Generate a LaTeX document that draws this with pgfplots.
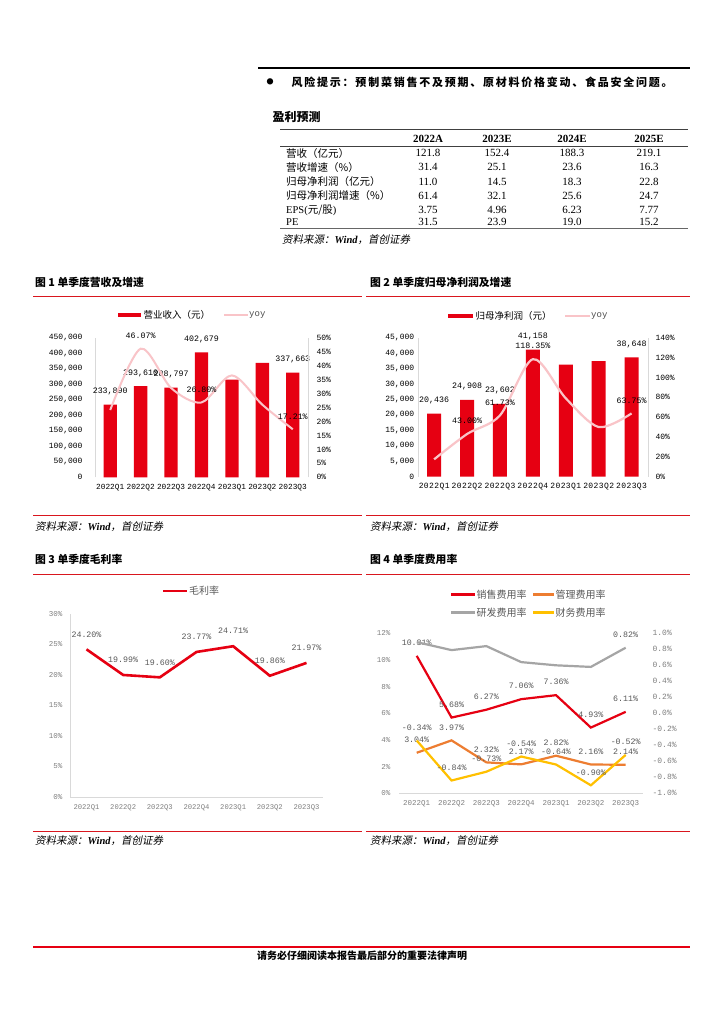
\documentclass[border=0pt]{standalone}
\usepackage{fontspec}
\usepackage{pgfplots}
\pgfplotsset{compat=1.18}
\setmainfont{Liberation Serif}
\newfontfamily\cjk{Noto Sans CJK SC}
\newfontfamily\cjksp[LetterSpace=16]{Noto Sans CJK SC}
\newfontfamily\cjkit[FakeSlant=0.2]{Noto Sans CJK SC}
\newfontfamily\mono{Liberation Mono}
\newfontfamily\spmono[LetterSpace=5]{Liberation Mono}
\newcommand\fs[1]{\fontsize{#1}{#1}\selectfont}
\definecolor{barred}{HTML}{E60012}
\definecolor{pinkc}{HTML}{F9C4C8}
\definecolor{linered}{HTML}{D9161E}
\definecolor{orangec}{HTML}{ED7D31}
\definecolor{grayc}{HTML}{A5A5A5}
\definecolor{yellowc}{HTML}{FFC000}
\definecolor{labgray}{HTML}{595959}
\definecolor{tickgray}{HTML}{808080}
\newcommand\source[1]{\node[anchor=west, inner sep=0] at (#1) {{\cjkit\fs{10.5}资料来源：}{\fs{10.5}\bfseries\itshape Wind}{\cjkit\fs{10.5}，首创证券}};}
\pgfplotsset{base/.style={scale only axis, anchor=south west, enlargelimits=false,
  xmin=-0.5, xmax=6.5, xtick={0,...,6}, tick style={draw=none}, major tick length=0pt,
  clip=false, axis line style={-}, scaled y ticks=false, scaled x ticks=false}}
\tikzset{lab/.style={font=\mono\fs{8.3}, anchor=center, yshift=13pt, inner sep=0pt}}
\begin{document}
\begin{tikzpicture}
\fill[white] (0pt,0pt) rectangle (724pt,-1024pt);
\path[use as bounding box] (0pt,0pt) rectangle (724pt,-1024pt);
% ---------- header ----------
\draw[black, line width=1.8pt] (258pt,-68.3pt) -- (690pt,-68.3pt);
\node[inner sep=0] at (270pt,-82pt) {\cjk\fs{7}●};
\node[anchor=west, inner sep=0] at (291.5pt,-82pt) {\cjksp\bfseries\fs{11}风险提示：预制菜销售不及预期、原材料价格变动、食品安全问题。};
\node[anchor=west, inner sep=0] at (272.5pt,-117.3pt) {\cjk\bfseries\fs{12}盈利预测};
% table
\draw[black!75, line width=0.8pt] (280pt,-129.3pt) -- (688pt,-129.3pt);
\draw[black!75, line width=0.8pt] (280pt,-146pt) -- (688pt,-146pt);
\draw[black!60, line width=0.8pt] (280pt,-228.3pt) -- (688pt,-228.3pt);
\foreach \x/\t in {428/2022A,497/2023E,572/2024E,649/2025E}
  \node[inner sep=0] at (\x pt,-138.7pt) {\fs{11}\bfseries \t};
\foreach \y/\l/\a/\b/\c/\d in {
  153.3/{\cjk 营收（亿元）}/121.8/152.4/188.3/219.1,
  167.3/{\cjk 营收增速（\%）}/31.4/25.1/23.6/16.3,
  181.7/{\cjk 归母净利润（亿元）}/11.0/14.5/18.3/22.8,
  195.7/{\cjk 归母净利润增速（\%）}/61.4/32.1/25.6/24.7,
  210/{EPS(\cjk 元/股\rmfamily)}/3.75/4.96/6.23/7.77,
  222.3/{PE}/31.5/23.9/19.0/15.2}{
  \node[anchor=west, inner sep=0] at (286pt,-\y pt) {\fs{10.5}\l};
  \node[inner sep=0] at (428pt,-\y pt) {\fs{11}\a};
  \node[inner sep=0] at (497pt,-\y pt) {\fs{11}\b};
  \node[inner sep=0] at (572pt,-\y pt) {\fs{11}\c};
  \node[inner sep=0] at (649pt,-\y pt) {\fs{11}\d};
}
\source{282pt,-240pt}
% ---------- section frames ----------
\node[anchor=west, inner sep=0] at (35pt,-282pt) {\cjk\bfseries\fs{10.8}图 1 单季度营收及增速};
\node[anchor=west, inner sep=0] at (370pt,-282pt) {\cjk\bfseries\fs{10.8}图 2 单季度归母净利润及增速};
\draw[linered, line width=0.8pt] (33pt,-296pt) -- (362pt,-296pt);
\draw[linered, line width=0.8pt] (366pt,-296pt) -- (690pt,-296pt);
\draw[linered, line width=0.8pt] (33pt,-515pt) -- (362pt,-515pt);
\draw[linered, line width=0.8pt] (366pt,-515pt) -- (690pt,-515pt);
\source{35pt,-526.7pt}
\source{370pt,-526.7pt}
\node[anchor=west, inner sep=0] at (35pt,-559pt) {\cjk\bfseries\fs{10.8}图 3 单季度毛利率};
\node[anchor=west, inner sep=0] at (370pt,-559pt) {\cjk\bfseries\fs{10.8}图 4 单季度费用率};
\draw[linered, line width=0.8pt] (33pt,-574pt) -- (362pt,-574pt);
\draw[linered, line width=0.8pt] (366pt,-574pt) -- (690pt,-574pt);
\draw[linered, line width=0.8pt] (33pt,-831pt) -- (362pt,-831pt);
\draw[linered, line width=0.8pt] (366pt,-831pt) -- (690pt,-831pt);
\source{35pt,-841pt}
\source{370pt,-841pt}
% footer
\draw[barred, line width=2.4pt] (33pt,-946.7pt) -- (690pt,-946.7pt);
\node[inner sep=0] at (362pt,-956pt) {\cjk\bfseries\fs{10}请务必仔细阅读本报告最后部分的重要法律声明};
% ---------- legends ----------
\fill[barred] (117.7pt,-312.7pt) rectangle (141pt,-317.3pt);
\node[anchor=west, inner sep=0] at (143.5pt,-315pt) {\cjk\fs{9.5}营业收入（元）};
\draw[pinkc, line width=2pt] (224pt,-315pt) -- (248pt,-315pt);
\node[anchor=west, inner sep=0] at (249pt,-315pt) {\mono\fs{9}\color{black!70}yoy};
\fill[barred] (448pt,-313.7pt) rectangle (473pt,-318.3pt);
\node[anchor=west, inner sep=0] at (475.5pt,-316pt) {\cjk\fs{9.5}归母净利润（元）};
\draw[pinkc, line width=2pt] (565pt,-316pt) -- (590pt,-316pt);
\node[anchor=west, inner sep=0] at (591pt,-316pt) {\mono\fs{9}\color{black!70}yoy};
\draw[barred, line width=2.5pt] (163pt,-591pt) -- (187pt,-591pt);
\node[anchor=west, inner sep=0] at (189pt,-591pt) {\cjk\fs{10}\color{labgray}毛利率};
\draw[barred, line width=2.5pt] (451pt,-594.3pt) -- (475pt,-594.3pt);
\node[anchor=west, inner sep=0] at (476.5pt,-594.3pt) {\cjk\fs{10}\color{labgray}销售费用率};
\draw[orangec, line width=2.5pt] (533pt,-594.3pt) -- (554pt,-594.3pt);
\node[anchor=west, inner sep=0] at (555.5pt,-594.3pt) {\cjk\fs{10}\color{labgray}管理费用率};
\draw[grayc, line width=2.5pt] (451pt,-612.7pt) -- (475pt,-612.7pt);
\node[anchor=west, inner sep=0] at (476.5pt,-612.7pt) {\cjk\fs{10}\color{labgray}研发费用率};
\draw[yellowc, line width=2.5pt] (533pt,-612.7pt) -- (554pt,-612.7pt);
\node[anchor=west, inner sep=0] at (555.5pt,-612.7pt) {\cjk\fs{10}\color{labgray}财务费用率};
% ---------- chart 1 ----------
\begin{axis}[base, at={(95pt,-477.3pt)}, width=213pt, height=139.6pt,
  ymin=0, ymax=450000,
  ytick={0,50000,100000,150000,200000,250000,300000,350000,400000,450000},
  yticklabels={0,{50,000},{100,000},{150,000},{200,000},{250,000},{300,000},{350,000},{400,000},{450,000}},
  xticklabels={2022Q1,2022Q2,2022Q3,2022Q4,2023Q1,2023Q2,2023Q3},
  axis x line*=bottom, axis y line*=left, x axis line style={draw=none}, y axis line style={draw=black!15},
  xticklabel style={font=\mono\fs{7.8}, yshift=-3pt},
  yticklabel style={font=\mono\fs{8}, xshift=-9pt}]
\addplot[ybar, bar width=13.3pt, fill=barred, draw=none, nodes near coords,
  point meta=explicit symbolic, every node near coord/.append style={lab, text=black}] coordinates {
  (0,233890) [{233,890}] (1,293610) [{293,610}] (2,288797) [{288,797}]
  (3,402679) [{402,679}] (4,315000) [] (5,369000) [] (6,337663) [{337,663}]};
\end{axis}
\begin{axis}[base, at={(95pt,-477.3pt)}, width=213pt, height=139.6pt,
  ymin=0, ymax=50, ytick={0,5,...,50},
  yticklabels={0\%,5\%,10\%,15\%,20\%,25\%,30\%,35\%,40\%,45\%,50\%},
  axis y line*=right, axis x line=none, y axis line style={draw=black!15},
  yticklabel style={font=\mono\fs{8}, xshift=5pt}]
\addplot[pinkc, line width=2pt, smooth, nodes near coords, point meta=explicit symbolic,
  every node near coord/.append style={lab, text=black}] coordinates {
  (0,24.1) [] (1,46.07) [46.07\%] (2,32) [] (3,26.8) [26.80\%] (4,36.5) [] (5,26) [] (6,17.21) [17.21\%]};
\end{axis}
% ---------- chart 2 ----------
\begin{axis}[base, at={(417.7pt,-476.7pt)}, width=230.3pt, height=139pt,
  ymin=0, ymax=45000,
  ytick={0,5000,10000,15000,20000,25000,30000,35000,40000,45000},
  yticklabels={0,{5,000},{10,000},{15,000},{20,000},{25,000},{30,000},{35,000},{40,000},{45,000}},
  xticklabels={2022Q1,2022Q2,2022Q3,2022Q4,2023Q1,2023Q2,2023Q3},
  axis x line*=bottom, axis y line*=left, x axis line style={draw=none}, y axis line style={draw=black!15},
  xticklabel style={font=\spmono\fs{8}, yshift=-3pt},
  yticklabel style={font=\mono\fs{8}}]
\addplot[ybar, bar width=14pt, fill=barred, draw=none, nodes near coords,
  point meta=explicit symbolic, every node near coord/.append style={lab, text=black}] coordinates {
  (0,20436) [{20,436}] (1,24908) [{24,908}] (2,23602) [{23,602}]
  (3,41158) [{41,158}] (4,36300) [] (5,37400) [] (6,38648) [{38,648}]};
\end{axis}
\begin{axis}[base, at={(417.7pt,-476.7pt)}, width=230.3pt, height=139pt,
  ymin=0, ymax=140, ytick={0,20,...,140},
  yticklabels={0\%,20\%,40\%,60\%,80\%,100\%,120\%,140\%},
  axis y line*=right, axis x line=none, y axis line style={draw=black!15},
  yticklabel style={font=\mono\fs{8}, xshift=4pt}]
\addplot[pinkc, line width=2.2pt, smooth, nodes near coords, point meta=explicit symbolic,
  every node near coord/.append style={lab, text=black}] coordinates {
  (0,17.5) [] (1,43.0) [43.00\%] (2,61.73) [61.73\%] (3,118.35) [118.35\%] (4,79) [] (5,50) [] (6,63.75) [63.75\%]};
\end{axis}
% ---------- chart 3 ----------
\begin{axis}[base, at={(70pt,-796.7pt)}, width=253pt, height=182.7pt,
  xmin=-0.45, xmax=6.45,
  ymin=0, ymax=30, ytick={0,5,...,30},
  yticklabels={0\%,5\%,10\%,15\%,20\%,25\%,30\%},
  xticklabels={2022Q1,2022Q2,2022Q3,2022Q4,2023Q1,2023Q2,2023Q3},
  axis x line*=bottom, axis y line*=left, axis line style={draw=black!15},
  xticklabel style={font=\mono\fs{7.2}, text=tickgray, yshift=-4pt},
  yticklabel style={font=\mono\fs{7.5}, text=tickgray, xshift=-4pt}]
\addplot[barred, line width=2.6pt, nodes near coords, point meta=explicit symbolic,
  every node near coord/.append style={lab, text=labgray, yshift=2pt}] coordinates {
  (0,24.20) [24.20\%] (1,19.99) [19.99\%] (2,19.60) [19.60\%] (3,23.77) [23.77\%]
  (4,24.71) [24.71\%] (5,19.86) [19.86\%] (6,21.97) [21.97\%]};
\end{axis}
% ---------- chart 4 ----------
\begin{axis}[base, at={(399.3pt,-793.3pt)}, width=243.8pt, height=160pt,
  ymin=0, ymax=12, ytick={0,2,...,12},
  yticklabels={0\%,2\%,4\%,6\%,8\%,10\%,12\%},
  xticklabels={2022Q1,2022Q2,2022Q3,2022Q4,2023Q1,2023Q2,2023Q3},
  axis x line*=bottom, axis y line*=left, x axis line style={draw=black!15}, y axis line style={draw=none},
  xticklabel style={font=\mono\fs{7.5}, text=tickgray, yshift=-4pt},
  yticklabel style={font=\mono\fs{7.5}, text=tickgray, xshift=-5.5pt}]
\addplot[barred, line width=2.2pt, nodes near coords, point meta=explicit symbolic,
  every node near coord/.append style={lab, text=labgray}] coordinates {
  (0,10.31) [10.31\%] (1,5.68) [5.68\%] (2,6.27) [6.27\%] (3,7.06) [7.06\%]
  (4,7.36) [7.36\%] (5,4.93) [4.93\%] (6,6.11) [6.11\%]};
\addplot[orangec, line width=2.2pt, nodes near coords, point meta=explicit symbolic,
  every node near coord/.append style={lab, text=labgray}] coordinates {
  (0,3.04) [3.04\%] (1,3.97) [3.97\%] (2,2.32) [2.32\%] (3,2.17) [2.17\%]
  (4,2.82) [2.82\%] (5,2.16) [2.16\%] (6,2.14) [2.14\%]};
\end{axis}
\begin{axis}[base, at={(399.3pt,-793.3pt)}, width=243.8pt, height=160pt,
  ymin=-1, ymax=1, ytick={-1,-0.8,-0.6,-0.4,-0.2,0,0.2,0.4,0.6,0.8,1},
  yticklabels={-1.0\%,-0.8\%,-0.6\%,-0.4\%,-0.2\%,0.0\%,0.2\%,0.4\%,0.6\%,0.8\%,1.0\%},
  axis y line*=right, axis x line=none, y axis line style={draw=none},
  yticklabel style={font=\mono\fs{8}, text=tickgray, xshift=6pt}]
\addplot[grayc, line width=2.2pt, nodes near coords, point meta=explicit symbolic,
  every node near coord/.append style={lab, text=labgray}] coordinates {
  (0,0.89) [] (1,0.79) [] (2,0.84) [] (3,0.64) [] (4,0.60) [] (5,0.58) [] (6,0.82) [0.82\%]};
\addplot[yellowc, line width=2.2pt, nodes near coords, point meta=explicit symbolic,
  every node near coord/.append style={lab, text=labgray}] coordinates {
  (0,-0.34) [-0.34\%] (1,-0.84) [-0.84\%] (2,-0.73) [-0.73\%] (3,-0.54) [-0.54\%]
  (4,-0.64) [-0.64\%] (5,-0.90) [-0.90\%] (6,-0.52) [-0.52\%]};
\end{axis}
\end{tikzpicture}
\end{document}
